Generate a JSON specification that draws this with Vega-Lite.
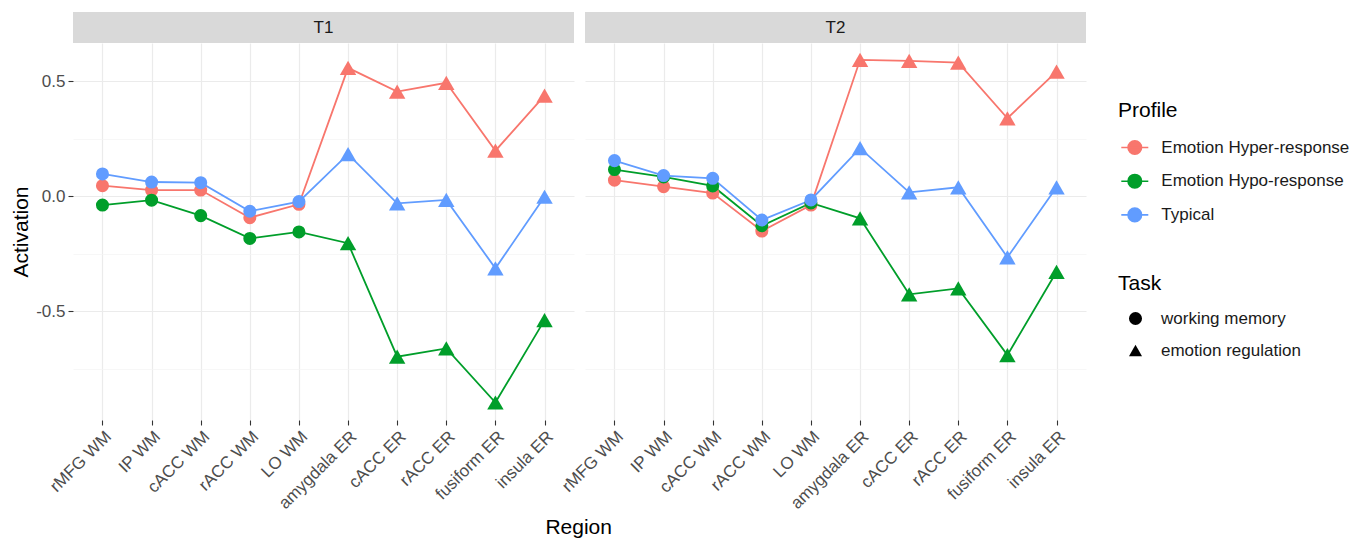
{
  "$schema": "https://vega.github.io/schema/vega-lite/v6.json",
  "background": "white",
  "padding": {"left": 10, "top": 12, "right": 5, "bottom": 2},
  "spacing": -16,
  "title": {"text": "Region", "orient": "bottom", "anchor": "start", "align": "center", "dx": 568, "fontSize": 21, "fontWeight": "normal", "color": "#000000", "offset": 6},
  "datasets": {
    "d": [
      {"Time":"T1","Profile":"Emotion Hyper-response","Region":"rMFG WM","Task":"working memory","Activation":0.046,"Order":1},
      {"Time":"T1","Profile":"Emotion Hyper-response","Region":"IP WM","Task":"working memory","Activation":0.027,"Order":2},
      {"Time":"T1","Profile":"Emotion Hyper-response","Region":"cACC WM","Task":"working memory","Activation":0.027,"Order":3},
      {"Time":"T1","Profile":"Emotion Hyper-response","Region":"rACC WM","Task":"working memory","Activation":-0.093,"Order":4},
      {"Time":"T1","Profile":"Emotion Hyper-response","Region":"LO WM","Task":"working memory","Activation":-0.035,"Order":5},
      {"Time":"T1","Profile":"Emotion Hyper-response","Region":"amygdala ER","Task":"emotion regulation","Activation":0.558,"Order":6},
      {"Time":"T1","Profile":"Emotion Hyper-response","Region":"cACC ER","Task":"emotion regulation","Activation":0.455,"Order":7},
      {"Time":"T1","Profile":"Emotion Hyper-response","Region":"rACC ER","Task":"emotion regulation","Activation":0.493,"Order":8},
      {"Time":"T1","Profile":"Emotion Hyper-response","Region":"fusiform ER","Task":"emotion regulation","Activation":0.198,"Order":9},
      {"Time":"T1","Profile":"Emotion Hyper-response","Region":"insula ER","Task":"emotion regulation","Activation":0.437,"Order":10},
      {"Time":"T1","Profile":"Emotion Hypo-response","Region":"rMFG WM","Task":"working memory","Activation":-0.038,"Order":1},
      {"Time":"T1","Profile":"Emotion Hypo-response","Region":"IP WM","Task":"working memory","Activation":-0.017,"Order":2},
      {"Time":"T1","Profile":"Emotion Hypo-response","Region":"cACC WM","Task":"working memory","Activation":-0.084,"Order":3},
      {"Time":"T1","Profile":"Emotion Hypo-response","Region":"rACC WM","Task":"working memory","Activation":-0.183,"Order":4},
      {"Time":"T1","Profile":"Emotion Hypo-response","Region":"LO WM","Task":"working memory","Activation":-0.155,"Order":5},
      {"Time":"T1","Profile":"Emotion Hypo-response","Region":"amygdala ER","Task":"emotion regulation","Activation":-0.204,"Order":6},
      {"Time":"T1","Profile":"Emotion Hypo-response","Region":"cACC ER","Task":"emotion regulation","Activation":-0.697,"Order":7},
      {"Time":"T1","Profile":"Emotion Hypo-response","Region":"rACC ER","Task":"emotion regulation","Activation":-0.661,"Order":8},
      {"Time":"T1","Profile":"Emotion Hypo-response","Region":"fusiform ER","Task":"emotion regulation","Activation":-0.896,"Order":9},
      {"Time":"T1","Profile":"Emotion Hypo-response","Region":"insula ER","Task":"emotion regulation","Activation":-0.538,"Order":10},
      {"Time":"T1","Profile":"Typical","Region":"rMFG WM","Task":"working memory","Activation":0.097,"Order":1},
      {"Time":"T1","Profile":"Typical","Region":"IP WM","Task":"working memory","Activation":0.062,"Order":2},
      {"Time":"T1","Profile":"Typical","Region":"cACC WM","Task":"working memory","Activation":0.059,"Order":3},
      {"Time":"T1","Profile":"Typical","Region":"rACC WM","Task":"working memory","Activation":-0.065,"Order":4},
      {"Time":"T1","Profile":"Typical","Region":"LO WM","Task":"working memory","Activation":-0.023,"Order":5},
      {"Time":"T1","Profile":"Typical","Region":"amygdala ER","Task":"emotion regulation","Activation":0.183,"Order":6},
      {"Time":"T1","Profile":"Typical","Region":"cACC ER","Task":"emotion regulation","Activation":-0.031,"Order":7},
      {"Time":"T1","Profile":"Typical","Region":"rACC ER","Task":"emotion regulation","Activation":-0.016,"Order":8},
      {"Time":"T1","Profile":"Typical","Region":"fusiform ER","Task":"emotion regulation","Activation":-0.313,"Order":9},
      {"Time":"T1","Profile":"Typical","Region":"insula ER","Task":"emotion regulation","Activation":-0.002,"Order":10},
      {"Time":"T2","Profile":"Emotion Hyper-response","Region":"rMFG WM","Task":"working memory","Activation":0.07,"Order":1},
      {"Time":"T2","Profile":"Emotion Hyper-response","Region":"IP WM","Task":"working memory","Activation":0.042,"Order":2},
      {"Time":"T2","Profile":"Emotion Hyper-response","Region":"cACC WM","Task":"working memory","Activation":0.014,"Order":3},
      {"Time":"T2","Profile":"Emotion Hyper-response","Region":"rACC WM","Task":"working memory","Activation":-0.151,"Order":4},
      {"Time":"T2","Profile":"Emotion Hyper-response","Region":"LO WM","Task":"working memory","Activation":-0.038,"Order":5},
      {"Time":"T2","Profile":"Emotion Hyper-response","Region":"amygdala ER","Task":"emotion regulation","Activation":0.593,"Order":6},
      {"Time":"T2","Profile":"Emotion Hyper-response","Region":"cACC ER","Task":"emotion regulation","Activation":0.588,"Order":7},
      {"Time":"T2","Profile":"Emotion Hyper-response","Region":"rACC ER","Task":"emotion regulation","Activation":0.581,"Order":8},
      {"Time":"T2","Profile":"Emotion Hyper-response","Region":"fusiform ER","Task":"emotion regulation","Activation":0.339,"Order":9},
      {"Time":"T2","Profile":"Emotion Hyper-response","Region":"insula ER","Task":"emotion regulation","Activation":0.542,"Order":10},
      {"Time":"T2","Profile":"Emotion Hypo-response","Region":"rMFG WM","Task":"working memory","Activation":0.116,"Order":1},
      {"Time":"T2","Profile":"Emotion Hypo-response","Region":"IP WM","Task":"working memory","Activation":0.084,"Order":2},
      {"Time":"T2","Profile":"Emotion Hypo-response","Region":"cACC WM","Task":"working memory","Activation":0.045,"Order":3},
      {"Time":"T2","Profile":"Emotion Hypo-response","Region":"rACC WM","Task":"working memory","Activation":-0.128,"Order":4},
      {"Time":"T2","Profile":"Emotion Hypo-response","Region":"LO WM","Task":"working memory","Activation":-0.029,"Order":5},
      {"Time":"T2","Profile":"Emotion Hypo-response","Region":"amygdala ER","Task":"emotion regulation","Activation":-0.096,"Order":6},
      {"Time":"T2","Profile":"Emotion Hypo-response","Region":"cACC ER","Task":"emotion regulation","Activation":-0.426,"Order":7},
      {"Time":"T2","Profile":"Emotion Hypo-response","Region":"rACC ER","Task":"emotion regulation","Activation":-0.4,"Order":8},
      {"Time":"T2","Profile":"Emotion Hypo-response","Region":"fusiform ER","Task":"emotion regulation","Activation":-0.69,"Order":9},
      {"Time":"T2","Profile":"Emotion Hypo-response","Region":"insula ER","Task":"emotion regulation","Activation":-0.328,"Order":10},
      {"Time":"T2","Profile":"Typical","Region":"rMFG WM","Task":"working memory","Activation":0.155,"Order":1},
      {"Time":"T2","Profile":"Typical","Region":"IP WM","Task":"working memory","Activation":0.09,"Order":2},
      {"Time":"T2","Profile":"Typical","Region":"cACC WM","Task":"working memory","Activation":0.078,"Order":3},
      {"Time":"T2","Profile":"Typical","Region":"rACC WM","Task":"working memory","Activation":-0.103,"Order":4},
      {"Time":"T2","Profile":"Typical","Region":"LO WM","Task":"working memory","Activation":-0.016,"Order":5},
      {"Time":"T2","Profile":"Typical","Region":"amygdala ER","Task":"emotion regulation","Activation":0.209,"Order":6},
      {"Time":"T2","Profile":"Typical","Region":"cACC ER","Task":"emotion regulation","Activation":0.017,"Order":7},
      {"Time":"T2","Profile":"Typical","Region":"rACC ER","Task":"emotion regulation","Activation":0.039,"Order":8},
      {"Time":"T2","Profile":"Typical","Region":"fusiform ER","Task":"emotion regulation","Activation":-0.265,"Order":9},
      {"Time":"T2","Profile":"Typical","Region":"insula ER","Task":"emotion regulation","Activation":0.039,"Order":10}
    ]
  },
  "resolve": {"scale": {"color": "shared", "shape": "shared", "y": "shared"}},
  "hconcat": [
    {
      "spacing": 0,
      "vconcat": [
        {
          "width": 501, "height": 31,
          "data": {"values": [{"Time": "T1"}]},
          "layer": [
            {"mark": {"type": "rect", "fill": "#D9D9D9"}, "encoding": {}},
            {"mark": {"type": "text", "fontSize": 17, "color": "#1A1A1A"}, "encoding": {"text": {"field": "Time"}}}
          ]
        },
        {
          "width": 501, "height": 377,
          "data": {"name": "d"},
          "transform": [{"filter": "datum.Time === 'T1'"}],
          "encoding": {
            "x": {"field": "Region", "type": "nominal",
              "sort": ["rMFG WM","IP WM","cACC WM","rACC WM","LO WM","amygdala ER","cACC ER","rACC ER","fusiform ER","insula ER"],
              "scale": {"type": "point", "padding": 0.6},
              "axis": {"title": null, "labelAngle": -45, "labelAlign": "right", "labelBaseline": "top", "labelPadding": 3, "tickSize": 5, "grid": true}},
            "y": {"field": "Activation", "type": "quantitative",
              "scale": {"domain": [-0.972, 0.666], "nice": false, "zero": false},
              "axis": {"title": "Activation", "values": [-0.75, -0.5, -0.25, 0, 0.25, 0.5],
                "labelExpr": "datum.value % 0.5 === 0 ? (datum.value < 0 ? '-' + format(-datum.value, '.1f') : format(datum.value, '.1f')) : ''",
                "tickOpacity": {"condition": {"test": "datum.value % 0.5 === 0", "value": 1}, "value": 0},
                "gridColor": {"condition": {"test": "datum.value % 0.5 === 0", "value": "#EBEBEB"}, "value": "#F3F3F3"},
                "gridWidth": {"condition": {"test": "datum.value % 0.5 === 0", "value": 1.2}, "value": 0.7},
                "tickSize": 5, "labelPadding": 3, "titlePadding": 4}},
            "color": {"field": "Profile", "type": "nominal",
              "scale": {"domain": ["Emotion Hyper-response","Emotion Hypo-response","Typical"], "range": ["#F8766D","#009E2A","#619CFF"]},
              "legend": {"title": "Profile", "orient": "none", "legendX": 1045, "legendY": 88, "labelLimit": 400,
                "symbolType": "M-1,0L1,0M0.5,0A0.5,0.5,0,1,1,-0.5,0A0.5,0.5,0,1,1,0.5,0Z",
                "symbolSize": 729, "symbolStrokeWidth": 1.6, "symbolOffset": 2.3, "labelOffset": 12, "rowPadding": 8.7, "titlePadding": 12,
                "encode": {"symbols": {"update": {"stroke": {"scale": "color", "field": "value"}, "fill": {"scale": "color", "field": "value"}, "opacity": {"value": 1}}}}}}
          },
          "layer": [
            {"mark": {"type": "line", "strokeWidth": 1.8}, "encoding": {"order": {"field": "Order", "type": "quantitative"}}},
            {"transform": [{"filter": "datum.Task === 'working memory'"}],
             "mark": {"type": "point", "filled": true, "opacity": 1, "size": 170},
             "encoding": {"shape": {"field": "Task", "type": "nominal",
                  "scale": {"domain": ["working memory","emotion regulation"], "range": ["circle","triangle-up"]},
                  "legend": {"title": "Task", "orient": "none", "legendX": 1045, "legendY": 261, "labelLimit": 400,
                    "symbolFillColor": "#000000", "symbolStrokeWidth": 0, "symbolSize": 170, "symbolOffset": 9, "labelOffset": 17, "rowPadding": 14, "titlePadding": 16,
                    "encode": {"symbols": {"update": {"size": {"signal": "datum.value === 'emotion regulation' ? 290 : 175"}, "fill": {"value": "#000000"}, "opacity": {"value": 1}}}}}}}},
            {"transform": [{"filter": "datum.Task === 'emotion regulation'"}],
             "mark": {"type": "point", "filled": true, "opacity": 1, "size": 270},
             "encoding": {"shape": {"field": "Task", "type": "nominal"}}}
          ]
        }
      ]
    },
    {
      "spacing": 0,
      "vconcat": [
        {
          "width": 501, "height": 31,
          "data": {"values": [{"Time": "T2"}]},
          "layer": [
            {"mark": {"type": "rect", "fill": "#D9D9D9"}, "encoding": {}},
            {"mark": {"type": "text", "fontSize": 17, "color": "#1A1A1A"}, "encoding": {"text": {"field": "Time"}}}
          ]
        },
        {
          "width": 501, "height": 377,
          "data": {"name": "d"},
          "transform": [{"filter": "datum.Time === 'T2'"}],
          "encoding": {
            "x": {"field": "Region", "type": "nominal",
              "sort": ["rMFG WM","IP WM","cACC WM","rACC WM","LO WM","amygdala ER","cACC ER","rACC ER","fusiform ER","insula ER"],
              "scale": {"type": "point", "padding": 0.6},
              "axis": {"title": null, "labelAngle": -45, "labelAlign": "right", "labelBaseline": "top", "labelPadding": 3, "tickSize": 5, "grid": true}},
            "y": {"field": "Activation", "type": "quantitative",
              "scale": {"domain": [-0.972, 0.666], "nice": false, "zero": false},
              "axis": {"title": null, "labels": false, "ticks": false, "domain": false, "values": [-0.75, -0.5, -0.25, 0, 0.25, 0.5],
                "gridColor": {"condition": {"test": "datum.value % 0.5 === 0", "value": "#EBEBEB"}, "value": "#F3F3F3"},
                "gridWidth": {"condition": {"test": "datum.value % 0.5 === 0", "value": 1.2}, "value": 0.7}}},
            "color": {"field": "Profile", "type": "nominal",
              "scale": {"domain": ["Emotion Hyper-response","Emotion Hypo-response","Typical"], "range": ["#F8766D","#009E2A","#619CFF"]},
              "legend": {"title": "Profile", "orient": "none", "legendX": 1045, "legendY": 88, "labelLimit": 400,
                "symbolType": "M-1,0L1,0M0.5,0A0.5,0.5,0,1,1,-0.5,0A0.5,0.5,0,1,1,0.5,0Z",
                "symbolSize": 729, "symbolStrokeWidth": 1.6, "symbolOffset": 2.3, "labelOffset": 12, "rowPadding": 8.7, "titlePadding": 12,
                "encode": {"symbols": {"update": {"stroke": {"scale": "color", "field": "value"}, "fill": {"scale": "color", "field": "value"}, "opacity": {"value": 1}}}}}}
          },
          "layer": [
            {"mark": {"type": "line", "strokeWidth": 1.8}, "encoding": {"order": {"field": "Order", "type": "quantitative"}}},
            {"transform": [{"filter": "datum.Task === 'working memory'"}],
             "mark": {"type": "point", "filled": true, "opacity": 1, "size": 170},
             "encoding": {"shape": {"field": "Task", "type": "nominal"}}},
            {"transform": [{"filter": "datum.Task === 'emotion regulation'"}],
             "mark": {"type": "point", "filled": true, "opacity": 1, "size": 270},
             "encoding": {"shape": {"field": "Task", "type": "nominal"}}}
          ]
        }
      ]
    }
  ],
  "config": {
    "font": "Liberation Sans",
    "view": {"stroke": null},
    "axis": {"labelFontSize": 17, "labelColor": "#4D4D4D", "titleFontSize": 21, "titleFontWeight": "normal", "titleColor": "#000000",
      "tickColor": "#333333", "tickWidth": 1.1, "domain": false, "gridColor": "#EBEBEB", "gridWidth": 1.2},
    "legend": {"titleFontSize": 21, "titleFontWeight": "normal", "titleColor": "#000000", "labelFontSize": 17, "labelColor": "#1A1A1A", "padding": 0}
  }
}
